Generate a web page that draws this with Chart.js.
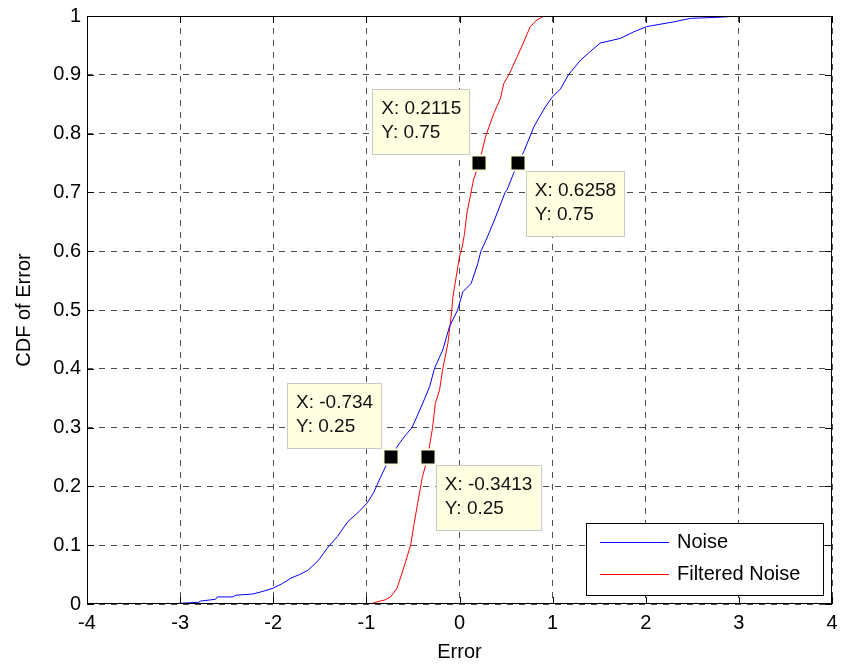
<!DOCTYPE html>
<html>
<head>
<meta charset="utf-8">
<script src="https://cdn.jsdelivr.net/npm/chart.js@4.4.1/dist/chart.umd.min.js"></script>
<style>
  body { margin: 0; background: #fff; }
  canvas { display: block; }
</style>
</head>
<body>
<canvas id="chart" width="841" height="664"></canvas>
<script>
const noiseX = [-3.13, -2.80, -2.78, -2.62, -2.60, -2.44, -2.40, -2.22, -2.10, -2.00, -1.90, -1.81, -1.72, -1.63,
  -1.51, -1.42, -1.31, -1.20, -1.08, -0.99, -0.92, -0.85, -0.775, -0.734, -0.66, -0.58, -0.51, -0.44, -0.38,
  -0.32, -0.27, -0.18, -0.107, -0.02, 0.036, 0.125, 0.196, 0.23, 0.286, 0.375, 0.49, 0.51, 0.58, 0.6258,
  0.69, 0.80, 0.85, 0.92, 1.00, 1.08, 1.17, 1.30, 1.40, 1.51, 1.73, 1.87, 2.01, 2.30, 2.48, 2.80, 3.00, 3.47];
const noiseY = [0, 0.003, 0.005, 0.008, 0.012, 0.012, 0.015, 0.017, 0.022, 0.027, 0.035, 0.044, 0.05, 0.057,
  0.075, 0.095, 0.115, 0.14, 0.157, 0.172, 0.19, 0.215, 0.24, 0.25, 0.27, 0.287, 0.30, 0.325, 0.347,
  0.37, 0.40, 0.432, 0.472, 0.50, 0.531, 0.545, 0.579, 0.60, 0.619, 0.653, 0.70, 0.704, 0.732, 0.75,
  0.769, 0.812, 0.826, 0.845, 0.863, 0.875, 0.90, 0.925, 0.939, 0.954, 0.962, 0.973, 0.982, 0.990, 0.996, 0.998, 1.0, 1.0];

const filteredX = [-0.955, -0.90, -0.80, -0.74, -0.67, -0.60, -0.525, -0.49, -0.45, -0.40, -0.3413, -0.29, -0.26,
  -0.214, -0.18, -0.125, -0.09, -0.07, -0.035, 0, 0.03, 0.054, 0.08, 0.15, 0.2115, 0.28, 0.37, 0.44, 0.475,
  0.53, 0.62, 0.69, 0.76, 0.83, 0.905, 0.93];
const filteredY = [0, 0.003, 0.007, 0.012, 0.027, 0.061, 0.10, 0.134, 0.171, 0.215, 0.25, 0.299, 0.341,
  0.364, 0.40, 0.443, 0.489, 0.523, 0.557, 0.591, 0.608, 0.63, 0.665, 0.721, 0.75, 0.795, 0.835, 0.86, 0.885,
  0.90, 0.931, 0.956, 0.982, 0.993, 1.0, 1.0];

const xTickLabels = ['-4', '-3', '-2', '-1', '0', '1', '2', '3', '4'];
const yTickLabels = ['0', '0.1', '0.2', '0.3', '0.4', '0.5', '0.6', '0.7', '0.8', '0.9', '1'];

// data tips
const tipX = [0.2115, 0.6258, -0.734, -0.3413];
const tipY = [0.75, 0.75, 0.25, 0.25];
const tipText = [['X: 0.2115', 'Y: 0.75'], ['X: 0.6258', 'Y: 0.75'], ['X: -0.734', 'Y: 0.25'], ['X: -0.3413', 'Y: 0.25']];
const tipSide = ['upleft', 'downright', 'upleft', 'downright'];

const FONT = '"Liberation Sans", Arial, sans-serif';

function toPoints(xs, ys) {
  return xs.map((x, i) => ({ x: x, y: ys[i] }));
}

// box, inward ticks, data tips and legend
const matlabStuff = {
  id: 'matlabStuff',
  afterDraw(chart) {
    const ctx = chart.ctx;
    const a = chart.chartArea;
    const xs = chart.scales.x, ys = chart.scales.y;
    ctx.save();

    // axes box
    ctx.strokeStyle = '#000';
    ctx.lineWidth = 1;
    ctx.strokeRect(a.left + 0.5, a.top + 0.5, a.right - a.left - 1, a.bottom - a.top - 1);

    // ticks pointing inwards
    const tl = 7;
    ctx.beginPath();
    xTickLabels.forEach(t => {
      const px = Math.round(xs.getPixelForValue(parseFloat(t))) + 0.5;
      ctx.moveTo(px, a.bottom); ctx.lineTo(px, a.bottom - tl);
      ctx.moveTo(px, a.top); ctx.lineTo(px, a.top + tl);
    });
    yTickLabels.forEach(t => {
      const py = Math.round(ys.getPixelForValue(parseFloat(t))) + 0.5;
      ctx.moveTo(a.left, py); ctx.lineTo(a.left + tl, py);
      ctx.moveTo(a.right, py); ctx.lineTo(a.right - tl, py);
    });
    ctx.stroke();

    // data tips
    ctx.font = '19px ' + FONT;
    ctx.textBaseline = 'middle';
    ctx.textAlign = 'left';
    tipX.forEach((tx, i) => {
      const px = xs.getPixelForValue(tx);
      const py = ys.getPixelForValue(tipY[i]);
      const w = Math.max(ctx.measureText(tipText[i][0]).width, ctx.measureText(tipText[i][1]).width) + 17;
      const h = 65;
      let bx, by;
      if (tipSide[i] === 'upleft') { bx = px - 10 - w; by = py - 9 - h; }
      else { bx = px + 8; by = py + 8; }
      ctx.fillStyle = '#ffffe1';
      ctx.fillRect(bx, by, w, h);
      ctx.strokeStyle = '#c8c8c8';
      ctx.strokeRect(Math.round(bx) + 0.5, Math.round(by) + 0.5, Math.round(w), h);
      ctx.fillStyle = '#111';
      ctx.fillText(tipText[i][0], bx + 9, by + 20);
      ctx.fillText(tipText[i][1], bx + 9, by + 44);
      // marker
      ctx.fillStyle = '#ffffe1';
      ctx.fillRect(Math.round(px) - 8.5, Math.round(py) - 8.5, 17, 17);
      ctx.fillStyle = '#000';
      ctx.fillRect(Math.round(px) - 6.5, Math.round(py) - 6.5, 13, 13);
    });

    // legend
    const lw = 237, lh = 72;
    const lx = a.right - 9 - lw, ly = a.bottom - 9 - lh;
    ctx.fillStyle = '#fff';
    ctx.fillRect(lx, ly, lw, lh);
    ctx.strokeStyle = '#000';
    ctx.strokeRect(Math.round(lx) + 0.5, Math.round(ly) + 0.5, lw, lh);
    ctx.font = '20px ' + FONT;
    chart.data.datasets.forEach((ds, i) => {
      const yy = Math.round(ly + 19 + i * 32) + 0.5;
      ctx.strokeStyle = ds.borderColor;
      ctx.beginPath();
      ctx.moveTo(lx + 14, yy); ctx.lineTo(lx + 83, yy);
      ctx.stroke();
      ctx.fillStyle = '#000';
      ctx.fillText(ds.label, lx + 91, yy);
    });
    ctx.restore();
  }
};

new Chart(document.getElementById('chart').getContext('2d'), {
  type: 'line',
  data: {
    datasets: [
      { label: 'Noise', data: toPoints(noiseX, noiseY), borderColor: '#0000ff', borderWidth: 1, pointRadius: 0, tension: 0 },
      { label: 'Filtered Noise', data: toPoints(filteredX, filteredY), borderColor: '#ff0000', borderWidth: 1, pointRadius: 0, tension: 0 }
    ]
  },
  options: {
    responsive: false,
    animation: false,
    devicePixelRatio: 1,
    layout: { padding: { top: 16, right: 9, left: 0, bottom: 0 } },
    plugins: { legend: { display: false }, tooltip: { enabled: false } },
    scales: {
      x: {
        type: 'linear',
        min: -4, max: 4,
        afterFit: s => { s.height = 60; s.paddingLeft = 0; s.paddingRight = 0; },
        ticks: {
          stepSize: 1, autoSkip: false, maxRotation: 0, padding: 7,
          color: '#000', font: { family: FONT, size: 20 },
          callback: (v, i) => xTickLabels[i]
        },
        grid: { color: '#4d4d4d', drawTicks: false, lineWidth: 1 },
        border: { display: false, dash: [6, 6] },
        title: { display: true, text: 'Error', color: '#000', font: { family: FONT, size: 20 }, padding: { top: 0, bottom: 0 } }
      },
      y: {
        type: 'linear',
        min: 0, max: 1,
        afterFit: s => { s.width = 87; s.paddingTop = 0; s.paddingBottom = 0; },
        ticks: {
          stepSize: 0.1, autoSkip: false, padding: 6,
          color: '#000', font: { family: FONT, size: 20 },
          callback: (v, i) => yTickLabels[i]
        },
        grid: { color: '#4d4d4d', drawTicks: false, lineWidth: 1 },
        border: { display: false, dash: [6, 6] },
        title: { display: true, text: 'CDF of Error', color: '#000', font: { family: FONT, size: 20 }, padding: { top: 12, bottom: 0 } }
      }
    }
  },
  plugins: [matlabStuff]
});
</script>
</body>
</html>
